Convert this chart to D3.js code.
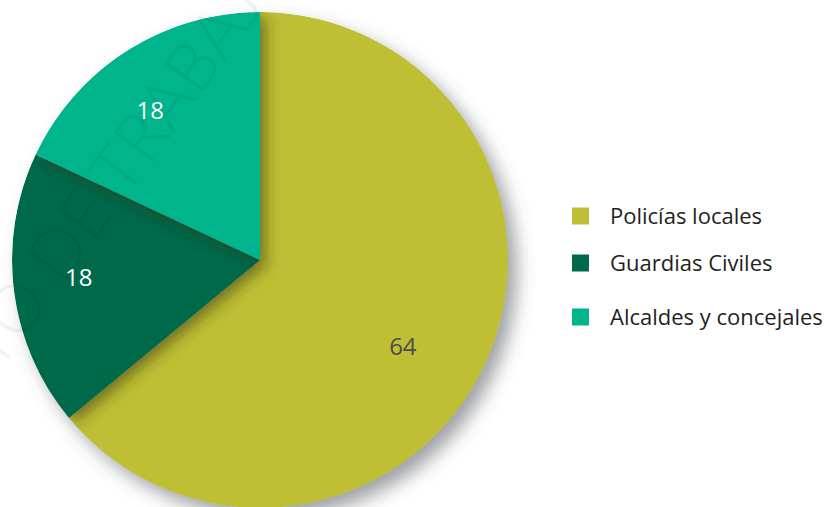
<!DOCTYPE html>
<html>
<head>
<meta charset="utf-8">
<script src="https://cdn.jsdelivr.net/npm/d3@7"></script>
<style>
  html, body { margin: 0; padding: 0; background: #fff; }
  svg { display: block; }
</style>
</head>
<body>
<svg id="viz"></svg>
<script>
const width = 829, height = 507;

// data
const categories = ["Policías locales", "Guardias Civiles", "Alcaldes y concejales"];
const values = [64, 18, 18];
const colors = ["#bfbf34", "#00694a", "#00b48b"];
const labelColors = ["#4d4d4d", "#ffffff", "#ffffff"];

// layout
const cx = 260, cy = 260, radius = 248;
const labelRadius = [167, 182, 186];   // distance of each value label from the centre
const labelTurn = [6, 1.8, -3.8];       // small angular nudge, degrees
const legendX = 572, legendYs = [216, 263, 317];

const svg = d3.select("#viz")
  .attr("width", width)
  .attr("height", height);

const defs = svg.append("defs");

// outer shadow of the whole pie
const outer = defs.append("filter").attr("id", "outerShadow")
  .attr("x", "-20%").attr("y", "-20%").attr("width", "150%").attr("height", "150%");
outer.append("feDropShadow")
  .attr("dx", 9).attr("dy", 10).attr("stdDeviation", 9)
  .attr("flood-color", "#50555c").attr("flood-opacity", 0.55);

// shadow that a slice casts on the one under it
const inner = defs.append("filter").attr("id", "sliceShadow")
  .attr("x", "-30%").attr("y", "-30%").attr("width", "160%").attr("height", "160%");
inner.append("feDropShadow")
  .attr("dx", 6).attr("dy", 5).attr("stdDeviation", 7)
  .attr("flood-color", "#2a2a10").attr("flood-opacity", 0.5);

defs.append("clipPath").attr("id", "pieClip")
  .append("circle").attr("r", radius);

const pie = d3.pie().sort(null).value(d => d)(values);
const arc = d3.arc().innerRadius(0).outerRadius(radius);

const g = svg.append("g")
  .attr("transform", `translate(${cx},${cy})`)
  .attr("filter", "url(#outerShadow)");

const inside = g.append("g").attr("clip-path", "url(#pieClip)");

inside.selectAll("path")
  .data(pie)
  .enter()
  .append("path")
  .attr("d", arc)
  .attr("fill", (d, i) => colors[i])
  .attr("filter", (d, i) => i > 0 ? "url(#sliceShadow)" : null);

function labelPos(d, i) {
  const a = (d.startAngle + d.endAngle) / 2 + labelTurn[i] * Math.PI / 180;
  return [Math.sin(a) * labelRadius[i], -Math.cos(a) * labelRadius[i]];
}

svg.append("g")
  .attr("transform", `translate(${cx},${cy})`)
  .selectAll("text")
  .data(pie)
  .enter()
  .append("text")
  .attr("transform", (d, i) => `translate(${labelPos(d, i)})`)
  .attr("text-anchor", "middle")
  .attr("dy", "0.36em")
  .attr("font-family", "'Open Sans', sans-serif")
  .attr("font-size", 24)
  .attr("fill", (d, i) => labelColors[i])
  .text(d => d.data);

// faint watermark
const wm = svg.append("g")
  .attr("transform", "translate(62,286) rotate(-54)")
  .attr("font-family", "Lato, 'Noto Sans', sans-serif")
  .attr("font-weight", 300)
  .attr("font-size", 68)
  .attr("fill", "#000")
  .attr("fill-opacity", 0.05);
wm.append("text").attr("text-anchor", "end").attr("x", -18).text("TO");
wm.append("text").attr("text-anchor", "start").attr("x", 0).text("DE TRABAJO");

// legend
const legend = svg.append("g")
  .selectAll("g")
  .data(categories)
  .enter()
  .append("g")
  .attr("transform", (d, i) => `translate(${legendX},${legendYs[i]})`);

legend.append("rect")
  .attr("x", 0).attr("y", -8.5)
  .attr("width", 17).attr("height", 17)
  .attr("fill", (d, i) => colors[i]);

legend.append("text")
  .attr("x", 38)
  .attr("dy", "0.35em")
  .attr("font-family", "'Open Sans', sans-serif")
  .attr("font-size", 22)
  .attr("fill", "#231f20")
  .text(d => d);
</script>
</body>
</html>
